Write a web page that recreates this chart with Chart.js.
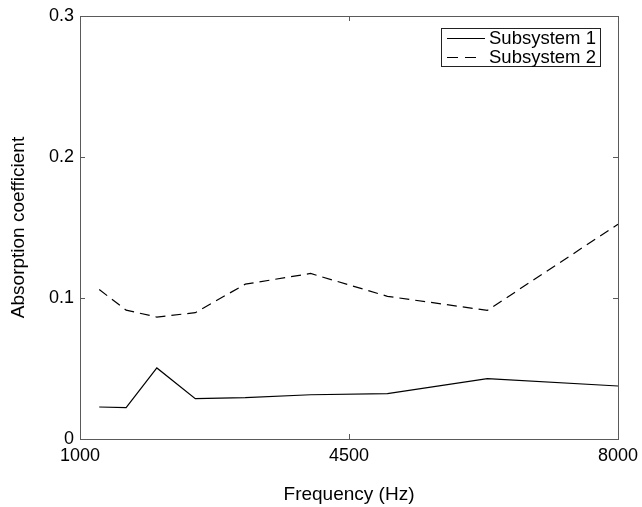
<!DOCTYPE html>
<html>
<head>
<meta charset="utf-8">
<script src="https://cdn.jsdelivr.net/npm/chart.js@4.4.0/dist/chart.umd.min.js"></script>
<style>
  html, body { margin: 0; padding: 0; background: #fff; }
  #wrap { width: 642px; height: 507px; }
</style>
</head>
<body>
<div id="wrap"><canvas id="myChart" width="642" height="507"></canvas></div>
<script>
// 1/3 octave band centre frequencies (Hz)
const freqs = [1250, 1600, 2000, 2500, 3150, 4000, 5000, 6300, 8000];
const sub1 = [0.0227, 0.0222, 0.0504, 0.0286, 0.0293, 0.0314, 0.0322, 0.0428, 0.0376];
const sub2 = [0.106, 0.0914, 0.0865, 0.0896, 0.1098, 0.1174, 0.1012, 0.0912, 0.1523];
const seriesNames = ['Subsystem 1', 'Subsystem 2'];
const xTicks = [1000, 4500, 8000];
const yTicks = [0, 0.1, 0.2, 0.3];

const FONT = 'Liberation Sans, Arial, Helvetica, sans-serif';

function pts(vals) {
    return freqs.map((f, i) => ({x: f, y: vals[i]}));
}

// matlab style box, inward ticks on all four sides, legend inside
const boxPlugin = {
    id: 'boxPlugin',
    afterDraw(chart) {
        const ctx = chart.ctx;
        const a = chart.chartArea;
        const xs = chart.scales.x, ys = chart.scales.y;
        const tl = 5;
        ctx.save();
        ctx.strokeStyle = '#5a5a5a';
        ctx.lineWidth = 1;
        ctx.strokeRect(a.left + 0.5, a.top + 0.5, a.right - a.left, a.bottom - a.top);
        ctx.beginPath();
        xTicks.forEach(v => {
            const px = Math.round(xs.getPixelForValue(v)) + 0.5;
            ctx.moveTo(px, a.bottom); ctx.lineTo(px, a.bottom - tl);
            ctx.moveTo(px, a.top); ctx.lineTo(px, a.top + tl);
        });
        yTicks.forEach(v => {
            const py = Math.round(ys.getPixelForValue(v)) + 0.5;
            ctx.moveTo(a.left, py); ctx.lineTo(a.left + tl, py);
            ctx.moveTo(a.right, py); ctx.lineTo(a.right - tl, py);
        });
        ctx.stroke();

        // legend
        const lx = 441, ly = 28, lw = 159, lh = 38;
        ctx.fillStyle = '#fff';
        ctx.fillRect(lx, ly, lw, lh);
        ctx.strokeStyle = '#222';
        ctx.strokeRect(lx + 0.5, ly + 0.5, lw, lh);
        ctx.font = '18.5px ' + FONT;
        ctx.textBaseline = 'middle';
        ctx.fillStyle = '#000';
        chart.data.datasets.forEach((ds, i) => {
            const y = ly + 10 + i * 18.5;
            ctx.beginPath();
            ctx.strokeStyle = '#000';
            ctx.lineWidth = 1;
            const dashed = !!ds.borderDash;
            ctx.setLineDash(dashed ? [11, 7] : []);
            ctx.moveTo(447, Math.round(y) + 0.5);
            ctx.lineTo(dashed ? 476 : 485, Math.round(y) + 0.5);
            ctx.stroke();
            ctx.setLineDash([]);
            ctx.fillText(ds.label, 489, y + 1);
        });
        ctx.restore();
    }
};

const ctx = document.getElementById('myChart');
const myChart = new Chart(ctx, {
    type: 'line',
    data: {
        datasets: [{
            label: seriesNames[0],
            data: pts(sub1),
            borderColor: '#000',
            borderWidth: 1.2,
            pointRadius: 0,
            tension: 0,
            fill: false
        }, {
            label: seriesNames[1],
            data: pts(sub2),
            borderColor: '#000',
            borderWidth: 1.2,
            borderDash: [10, 6],
            pointRadius: 0,
            tension: 0,
            fill: false
        }]
    },
    options: {
        responsive: false,
        animation: false,
        events: [],
        layout: { padding: { top: 16, right: 24, left: 0, bottom: 0 } },
        plugins: {
            legend: { display: false },
            tooltip: { enabled: false }
        },
        scales: {
            x: {
                type: 'linear',
                min: 1000,
                max: 8000,
                afterBuildTicks: s => { s.ticks = xTicks.map(v => ({value: v})); },
                afterFit: s => { s.height = 68; s.paddingLeft = 0; s.paddingRight = 0; },
                grid: { display: false, drawTicks: false, tickLength: 0 },
                border: { display: false },
                ticks: {
                    color: '#000',
                    font: { family: FONT, size: 18 },
                    padding: 6,
                    maxRotation: 0,
                    callback: v => String(v)
                },
                title: {
                    display: true,
                    text: 'Frequency (Hz)',
                    color: '#000',
                    font: { family: FONT, size: 19 },
                    padding: { top: 0, bottom: 1 }
                }
            },
            y: {
                min: 0,
                max: 0.3,
                afterBuildTicks: s => { s.ticks = yTicks.map(v => ({value: v})); },
                afterFit: s => { s.width = 80; s.paddingTop = 0; s.paddingBottom = 0; },
                grid: { display: false, drawTicks: false, tickLength: 0 },
                border: { display: false },
                ticks: {
                    color: '#000',
                    font: { family: FONT, size: 18 },
                    padding: 6,
                    callback: v => String(Math.round(v * 10) / 10)
                },
                title: {
                    display: true,
                    text: 'Absorption coefficient',
                    color: '#000',
                    font: { family: FONT, size: 19 },
                    padding: { top: 7, bottom: 0 }
                }
            }
        }
    },
    plugins: [boxPlugin]
});
</script>
</body>
</html>
